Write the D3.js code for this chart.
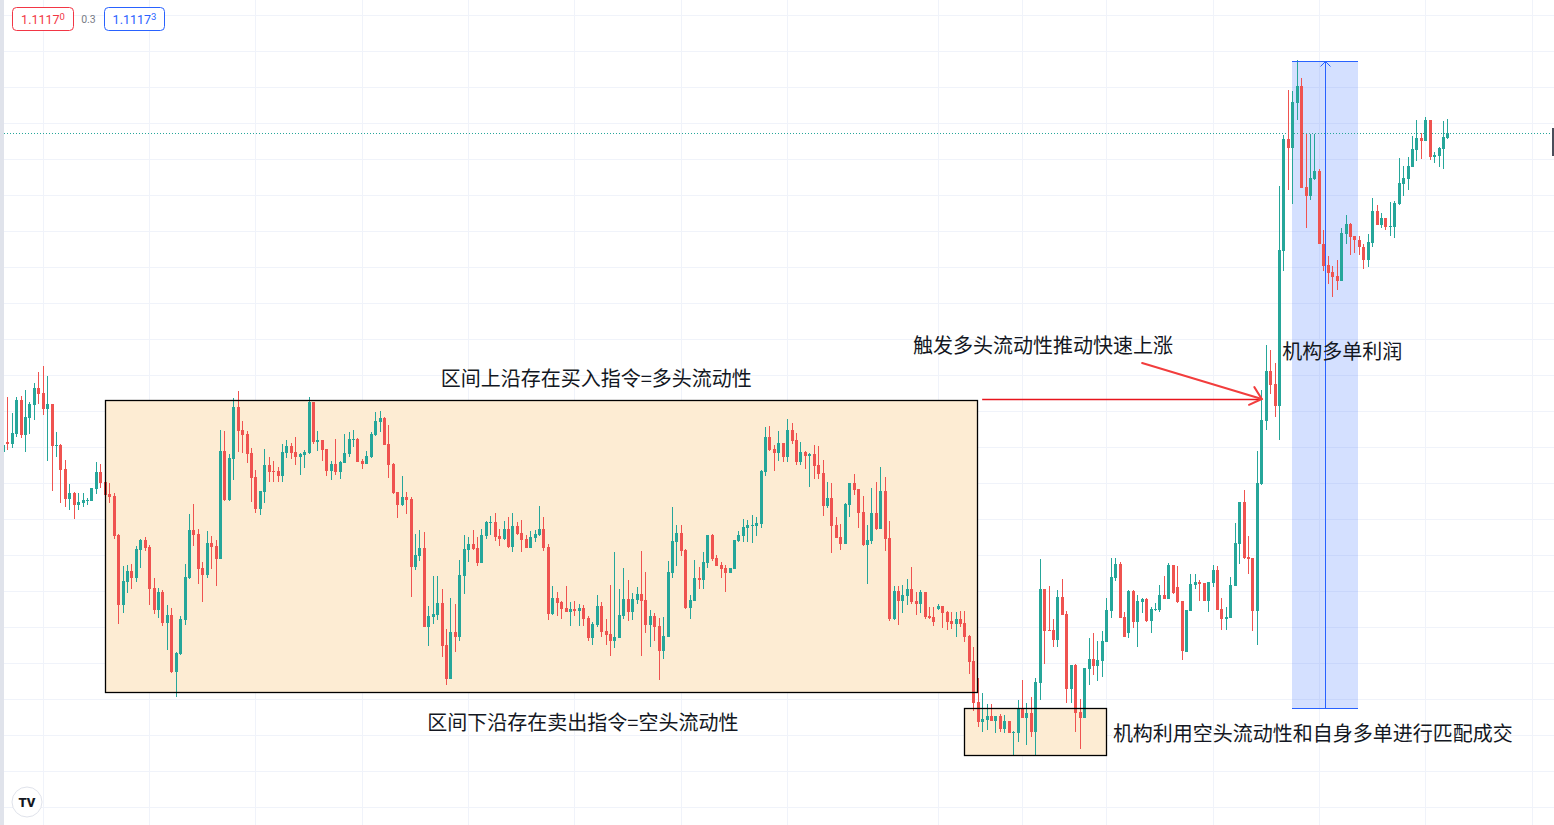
<!DOCTYPE html>
<html><head><meta charset="utf-8">
<script src="https://cdn.jsdelivr.net/npm/d3@7"></script>
<style>html,body{margin:0;padding:0;background:#fff;overflow:hidden}</style>
</head><body>
<svg id="chart" width="1554" height="825"></svg>
<script>
// Prices are given in points (0.00001) above 1.10000, e.g. 1170 -> 1.11170
const BASE = 1.10000, PT = 0.00001;
const FIRST_INDEX = -1; // first (partially hidden) bar
const open = [851,
 861,859,869,903,868,885,898,915,910,894, 899,857,858,834,804,810,798,800,802,802,
 814,831,821,809,807,768,698,721,732,725, 753,763,756,715,693,711,680,688,631,649,
 683,725,773,769,735,728,760,757,744,852, 803,844,896,873,869,850,826,794,811,838,
 832,832,827,850,857,851,846,848,850,901, 861,863,854,832,839,831,840,849,863,864,
 842,839,846,868,881,885,859,839,811,798, 806,804,736,747,755,676,686,688,700,658,
 624,671,666,727,753,759,755,740,767,780, 781,767,764,774,756,777,770,764,755,765,
 768,774,756,689,705,701,695,691,694,692, 695,685,665,678,697,672,669,662,665,687,
 704,691,703,709,703,678,687,677,652,666, 730,761,770,753,695,702,725,723,740,768,
 745,738,735,730,734,762,767,775,777,777, 779,831,866,854,850,860,846,873,863,841,
 851,847,849,838,830,797,805,778,766,759, 798,820,814,791,758,762,790,774,812,765,
 684,712,702,707,714,702,699,711,687,686, 694,697,691,682,679,684,680,667,642,601,
 581,583,587,582,587,574,582,570,570,594, 585,590,571,620,714,673,673,663,706,689,
 614,638,591,585,634,644,637,642,661,692, 725,739,686,670,712,681,701,704,682,693,
 693,708,704,738,716,702,651,692,718,721, 720,702,720,733,694,684,685,717,759,801,
 746,745,692,819,882,932,919,897,1052,1164, 1155,1200,1217,1116,1107,1124,1132,1059,1038,1031,
 1027,1022,1069,1079,1067,1063,1056,1043,1060,1092, 1078,1085,1076,1076,1099,1119,1124,1136,1153,1165,
 1162,1183,1146,1147,1154,1165];
const high = [862,
 906,890,906,907,913,901,920,931,937,927, 899,871,859,843,819,811,810,810,805,815,
 841,839,826,820,810,769,737,738,739,757, 764,766,758,725,715,713,698,695,651,687,
 739,789,799,774,741,772,767,763,873,872, 849,905,912,882,872,855,833,812,854,846,
 842,836,859,863,860,866,850,853,906,901, 872,863,854,842,864,842,869,871,873,865,
 844,852,871,891,892,886,878,840,811,827, 811,806,769,773,771,697,727,727,714,674,
 705,699,743,768,766,773,766,774,782,787, 790,774,782,786,790,781,783,768,772,773,
 797,786,759,717,711,702,717,701,702,699, 698,687,681,708,701,684,718,751,714,735,
 723,710,716,752,731,693,690,685,686,742, 796,778,778,754,708,743,736,751,768,769,
 748,741,738,735,763,772,784,783,788,786, 833,876,877,858,872,860,884,880,870,861,
 852,850,858,857,843,821,820,786,779,800, 820,829,814,807,778,815,821,836,826,782,
 717,717,718,724,736,711,713,711,696,696, 699,697,692,691,691,692,692,668,656,625,
 610,599,599,587,589,588,582,572,603,623, 600,606,625,744,714,717,684,713,724,692,
 638,639,604,635,665,670,662,672,705,745, 745,741,691,713,713,708,705,705,696,700,
 718,727,740,738,737,702,693,729,729,723, 720,721,738,737,705,696,726,780,801,813,
 767,745,852,913,958,953,940,1117,1168,1213, 1212,1243,1225,1169,1169,1169,1134,1073,1047,1037,
 1043,1075,1088,1080,1067,1067,1059,1069,1105,1098, 1090,1085,1101,1102,1145,1137,1146,1167,1183,1170,
 1186,1183,1151,1156,1182,1184];
const low = [845,
 853,855,866,865,851,869,883,899,888,842, 812,846,800,796,793,784,793,796,798,802,
 809,815,801,800,764,679,690,710,714,721, 735,752,698,689,685,677,653,630,606,648,
 678,724,757,719,701,725,734,717,744,802, 802,823,851,850,840,801,790,788,800,821,
 821,821,821,845,844,838,828,835,849,859, 852,842,827,823,828,824,840,846,856,841,
 834,839,845,867,871,858,825,809,785,797, 789,706,733,742,676,657,679,683,646,618,
 624,651,662,709,741,753,737,740,764,768, 762,757,763,755,751,768,751,755,755,761,
 767,752,683,688,687,684,691,677,687,677, 677,662,658,676,666,658,647,655,665,684,
 682,683,699,647,670,656,662,623,644,666, 725,737,747,694,684,702,714,714,735,742,
 737,725,711,730,734,761,761,761,760,767, 775,827,852,832,842,841,841,859,838,838,
 834,816,824,824,787,795,750,765,753,759, 786,808,775,757,719,759,773,774,752,682,
 683,678,690,698,699,688,690,684,684,677, 693,675,673,674,666,676,661,629,592,576,
 571,573,582,570,571,570,570,548,561,585, 558,566,548,603,639,672,656,656,688,600,
 600,571,554,585,618,628,622,626,661,685, 722,685,666,665,675,656,690,681,670,692,
 691,704,704,709,700,643,651,692,714,702, 702,691,716,693,673,673,685,717,739,744,
 729,672,658,818,873,909,886,863,1032,1113, 1099,1183,1115,1075,1103,1123,1059,1032,1019,1006,
 1013,1022,1059,1048,1050,1048,1034,1036,1056,1078, 1075,1073,1067,1065,1098,1107,1113,1136,1142,1144,
 1162,1143,1140,1136,1134,1164];
const close = [858,
 859,870,903,868,886,899,915,909,894,899, 857,858,833,804,810,798,801,803,803,815,
 831,820,808,806,767,698,722,732,725,754, 763,755,714,693,711,680,688,631,650,684,
 726,773,768,734,728,760,756,744,852,803, 845,896,872,868,849,825,794,812,838,831,
 831,827,851,857,850,846,849,851,901,861, 863,853,832,839,831,841,850,864,864,841,
 839,847,869,882,885,858,838,810,798,806, 803,736,748,755,676,687,689,700,657,624,
 671,666,728,754,759,754,740,768,781,781, 766,764,774,756,777,769,763,755,766,769,
 774,755,689,705,700,694,691,694,692,695, 684,665,679,697,671,668,662,666,688,704,
 691,704,709,702,678,687,676,652,667,731, 762,770,752,695,703,725,723,741,768,744,
 737,734,730,735,763,768,776,778,778,780, 832,866,853,850,860,846,873,862,841,851,
 847,849,837,829,797,805,777,765,759,799, 820,813,790,758,763,790,774,812,764,684,
 712,702,708,714,701,699,711,686,685,681, 697,690,681,679,684,679,666,641,600,581,
 584,587,582,587,574,582,570,571,594,585, 590,571,621,714,672,672,663,706,688,614,
 638,590,585,635,644,637,643,662,693,726, 739,685,666,712,681,702,704,682,694,694,
 708,704,738,710,701,652,693,719,721,719, 702,721,733,693,684,686,718,760,801,745,
 744,692,820,883,932,918,897,1053,1164,1155, 1201,1217,1115,1107,1125,1132,1059,1037,1030,1026,
 1022,1070,1079,1066,1063,1056,1043,1061,1092,1078, 1085,1076,1077,1100,1120,1125,1137,1154,1165,1162,
 1183,1146,1148,1155,1166,1170];

// price grid levels (points) and time grid (bar index)
const priceGrid = [496,532,568,604,640,676,712,748,784,820,856,892,928,964,1000,1036,1072,1108,1144,1180,1216,1252,1288];
const timeGrid = [8,32,56,80,104,128,152,176,210,229,248,272,296,320,344];

// quote labels
const bidLabel = ["1.1117", "0"], askLabel = ["1.1117", "3"], spreadLabel = "0.3";

// annotation texts
const txtTop = "区间上沿存在买入指令=多头流动性";
const txtBottom = "区间下沿存在卖出指令=空头流动性";
const txtTrigger = "触发多头流动性推动快速上涨";
const txtProfit = "机构多单利润";
const txtMatch = "机构利用空头流动性和自身多单进行匹配成交";

const W = 1554, H = 825;
const UP = "#26a69a", DOWN = "#ef5350";
const bars = open.map((o, k) => ({i: FIRST_INDEX + k, o, h: high[k], l: low[k], c: close[k]}));

const x = d3.scaleLinear().domain([-1.648, 349.05]).range([0, W]);
const y = d3.scaleLinear().domain([478, 1303]).range([H, 0]);
const svg = d3.select("#chart");
const px = v => Math.round(v) + 0.5;

// background grid
svg.append("g").selectAll("line").data(priceGrid).join("line")
  .attr("x1", 0).attr("x2", W).attr("y1", d => px(y(d))).attr("y2", d => px(y(d)))
  .attr("stroke", "#f0f3fa").attr("stroke-width", 1);
svg.append("g").selectAll("line").data(timeGrid).join("line")
  .attr("y1", 0).attr("y2", H).attr("x1", d => px(x(d))).attr("x2", d => px(x(d)))
  .attr("stroke", "#f0f3fa").attr("stroke-width", 1);

// annotation zones (index / price anchored)
const zones = [
  {i0: 22.07, i1: 218.8, p0: 903, p1: 611, fill: "#fdecd3", stroke: "#000"},
  {i0: 215.9, i1: 248.0, p0: 595, p1: 548, fill: "#fdecd3", stroke: "#000"}
];
const profit = {i0: 289.9, i1: 304.8, p0: 1242, p1: 595, mid: 297.4};

const gz = svg.append("g");
gz.selectAll("rect.z").data(zones).join("rect").attr("class", "z")
  .attr("x", d => px(x(d.i0))).attr("y", d => px(y(d.p0)))
  .attr("width", d => Math.round(x(d.i1)) - Math.round(x(d.i0)))
  .attr("height", d => Math.round(y(d.p1)) - Math.round(y(d.p0)))
  .attr("fill", d => d.fill);
gz.append("rect")
  .attr("x", Math.round(x(profit.i0))).attr("y", Math.round(y(profit.p0)))
  .attr("width", Math.round(x(profit.i1)) - Math.round(x(profit.i0)))
  .attr("height", Math.round(y(profit.p1)) - Math.round(y(profit.p0)))
  .attr("fill", "rgba(41,98,255,0.2)");

// current price dotted line
svg.append("line").attr("x1", 4).attr("x2", W)
  .attr("y1", px(y(close[close.length - 1]))).attr("y2", px(y(close[close.length - 1])))
  .attr("stroke", UP).attr("stroke-width", 1).attr("stroke-dasharray", "1 2");

// candles
const gc = svg.append("g");
gc.selectAll("rect.w").data(bars).join("rect").attr("class", "w")
  .attr("x", d => Math.round(x(d.i)))
  .attr("y", d => Math.round(y(d.h)))
  .attr("width", 1)
  .attr("height", d => Math.max(1, Math.round(y(d.l)) - Math.round(y(d.h))))
  .attr("fill", d => d.c >= d.o ? UP : DOWN);
gc.selectAll("rect.b").data(bars).join("rect").attr("class", "b")
  .attr("x", d => Math.round(x(d.i)) - 1)
  .attr("y", d => Math.round(y(Math.max(d.o, d.c))))
  .attr("width", 3)
  .attr("height", d => Math.max(1, Math.round(y(Math.min(d.o, d.c))) - Math.round(y(Math.max(d.o, d.c)))))
  .attr("fill", d => d.c >= d.o ? UP : DOWN);

// zone borders
svg.append("g").selectAll("rect").data(zones).join("rect")
  .attr("x", d => px(x(d.i0))).attr("y", d => px(y(d.p0)))
  .attr("width", d => Math.round(x(d.i1)) - Math.round(x(d.i0)))
  .attr("height", d => Math.round(y(d.p1)) - Math.round(y(d.p0)))
  .attr("fill", "none").attr("stroke", d => d.stroke).attr("stroke-width", 1.3);

// profit tool lines
const BLUE = "#2962ff";
const gp = svg.append("g").attr("stroke", BLUE).attr("stroke-width", 1).attr("fill", "none");
[profit.p0, profit.p1].forEach(p => gp.append("line")
  .attr("x1", Math.round(x(profit.i0))).attr("x2", Math.round(x(profit.i1)))
  .attr("y1", px(y(p))).attr("y2", px(y(p))));
const mx = px(x(profit.mid));
gp.append("line").attr("x1", mx).attr("x2", mx).attr("y1", px(y(profit.p1))).attr("y2", px(y(profit.p0)));
gp.append("path").attr("d", `M${mx - 5},${px(y(profit.p0)) + 5}L${mx},${px(y(profit.p0))}L${mx + 5},${px(y(profit.p0)) + 5}`);

// red arrows
const hLine = {i0: 220.0, i1: 282.6, p: 904};
svg.append("line")
  .attr("x1", x(hLine.i0)).attr("x2", x(hLine.i1)).attr("y1", px(y(hLine.p))).attr("y2", px(y(hLine.p)))
  .attr("stroke", "#e8141c").attr("stroke-width", 1.4);
const diag = {i0: 256.1, p0: 940, i1: 283.1, p1: 904};
const ax0 = x(diag.i0), ay0 = y(diag.p0), ax1 = x(diag.i1), ay1 = y(diag.p1);
const ang = Math.atan2(ay1 - ay0, ax1 - ax0);
const wing = 14, spread = 0.72;
const ga = svg.append("g").attr("stroke", "#f23d3d").attr("stroke-width", 2).attr("fill", "none").attr("stroke-linecap", "round");
ga.append("line").attr("x1", ax0).attr("y1", ay0).attr("x2", ax1).attr("y2", ay1);
ga.append("path").attr("d",
  `M${ax1 - wing * Math.cos(ang - spread)},${ay1 - wing * Math.sin(ang - spread)}L${ax1},${ay1}L${ax1 - wing * Math.cos(ang + spread)},${ay1 - wing * Math.sin(ang + spread)}`);

// annotation texts
const texts = [
  {t: txtTop, i: 132.9, p: 926, anchor: "middle"},
  {t: txtBottom, i: 129.9, p: 582, anchor: "middle"},
  {t: txtTrigger, i: 204.4, p: 959, anchor: "start"},
  {t: txtProfit, i: 287.7, p: 953, anchor: "start"},
  {t: txtMatch, i: 249.5, p: 571, anchor: "start"}
];
svg.append("g").selectAll("text").data(texts).join("text")
  .attr("x", d => x(d.i)).attr("y", d => y(d.p))
  .attr("text-anchor", d => d.anchor).attr("dominant-baseline", "central")
  .attr("font-family", "'Noto Sans CJK SC', sans-serif").attr("font-size", 20)
  .attr("fill", "#131722").text(d => d.t);

// left strip and right edge marker
svg.append("rect").attr("x", 0).attr("y", 0).attr("width", 4).attr("height", H).attr("fill", "#e0e3eb");
svg.append("rect").attr("x", 1552).attr("y", 128).attr("width", 2).attr("height", 28).attr("fill", "#4a4e5a");

// quote labels
function quote(gx, w, col, parts) {
  const g = svg.append("g");
  g.append("rect").attr("x", gx + 0.5).attr("y", 7.5).attr("width", w).attr("height", 23).attr("rx", 4)
    .attr("fill", "#fff").attr("stroke", col);
  const t = g.append("text").attr("x", gx + w / 2 + 0.5).attr("y", 23.5).attr("text-anchor", "middle")
    .attr("font-family", "Roboto, sans-serif").attr("font-size", 12.5).attr("fill", col);
  t.append("tspan").text(parts[0]);
  t.append("tspan").attr("font-size", 9.5).attr("dy", -4).text(parts[1]);
}
quote(12, 61, "#f23645", bidLabel);
quote(104, 60, BLUE, askLabel);
svg.append("text").attr("x", 88.5).attr("y", 23).attr("text-anchor", "middle")
  .attr("font-family", "Roboto, sans-serif").attr("font-size", 10.5).attr("fill", "#787b86").text(spreadLabel);

// logo
const lg = svg.append("g");
lg.append("circle").attr("cx", 27).attr("cy", 802).attr("r", 15).attr("fill", "#fff").attr("stroke", "#e0e3eb");
lg.append("text").attr("x", 27).attr("y", 807).attr("text-anchor", "middle")
  .attr("font-family", "Roboto, sans-serif").attr("font-weight", 900).attr("font-size", 13)
  .attr("fill", "#131722").text("TV");
</script>
</body></html>
